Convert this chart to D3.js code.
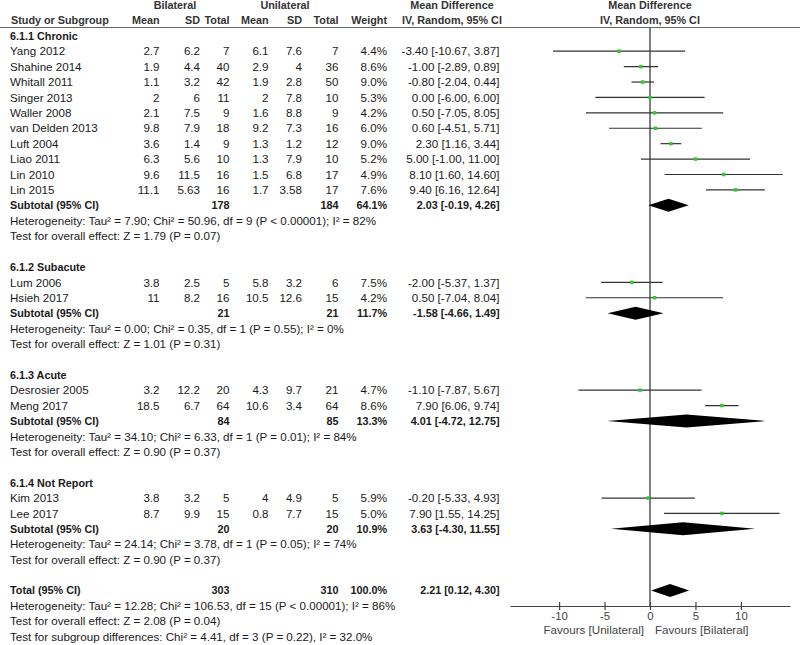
<!DOCTYPE html>
<html><head><meta charset="utf-8">
<script src="https://cdn.jsdelivr.net/npm/d3@7"></script>
<style>body{margin:0;background:#fff}svg{display:block}</style>
</head><body><svg id="c" width="800" height="645"></svg>
<script>
const groupNames = ["6.1.1 Chronic", "6.1.2 Subacute", "6.1.3 Acute", "6.1.4 Not Report"];
const studies = ["Yang 2012","Shahine 2014","Whitall 2011","Singer 2013","Waller 2008","van Delden 2013","Luft 2004","Liao 2011","Lin 2010","Lin 2015",
  "Lum 2006","Hsieh 2017","Desrosier 2005","Meng 2017","Kim 2013","Lee 2017"];
const studyGroup = [0,0,0,0,0,0,0,0,0,0,1,1,2,2,3,3];
const bMean = [2.7,1.9,1.1,2,2.1,9.8,3.6,6.3,9.6,11.1,3.8,11,3.2,18.5,3.8,8.7];
const bSD   = [6.2,4.4,3.2,6,7.5,7.9,1.4,5.6,11.5,5.63,2.5,8.2,12.2,6.7,3.2,9.9];
const bN    = [7,40,42,11,9,18,9,10,16,16,5,16,20,64,5,15];
const uMean = [6.1,2.9,1.9,2,1.6,9.2,1.3,1.3,1.5,1.7,5.8,10.5,4.3,10.6,4,0.8];
const uSD   = [7.6,4,2.8,7.8,8.8,7.3,1.2,7.9,6.8,3.58,3.2,12.6,9.7,3.4,4.9,7.7];
const uN    = [7,36,50,10,9,16,12,10,17,17,6,15,21,64,5,15];
const weight= [4.4,8.6,9.0,5.3,4.2,6.0,9.0,5.2,4.9,7.6,7.5,4.2,4.7,8.6,5.9,5.0];
const md    = [-3.40,-1.00,-0.80,0.00,0.50,0.60,2.30,5.00,8.10,9.40,-2.00,0.50,-1.10,7.90,-0.20,7.90];
const lo    = [-10.67,-2.89,-2.04,-6.00,-7.05,-4.51,1.16,-1.00,1.60,6.16,-5.37,-7.04,-7.87,6.06,-5.33,1.55];
const hi    = [3.87,0.89,0.44,6.00,8.05,5.71,3.44,11.00,14.60,12.64,1.37,8.04,5.67,9.74,4.93,14.25];

const subBN = [178,21,84,20];
const subUN = [184,21,85,20];
const subWeight = [64.1,11.7,13.3,10.9];
const subMD = [2.03,-1.58,4.01,3.63];
const subLo = [-0.19,-4.66,-4.72,-4.30];
const subHi = [4.26,1.49,12.75,11.55];
const subHet = [
 "Heterogeneity: Tau² = 7.90; Chi² = 50.96, df = 9 (P < 0.00001); I² = 82%",
 "Heterogeneity: Tau² = 0.00; Chi² = 0.35, df = 1 (P = 0.55); I² = 0%",
 "Heterogeneity: Tau² = 34.10; Chi² = 6.33, df = 1 (P = 0.01); I² = 84%",
 "Heterogeneity: Tau² = 24.14; Chi² = 3.78, df = 1 (P = 0.05); I² = 74%"];
const subTest = [
 "Test for overall effect: Z = 1.79 (P = 0.07)",
 "Test for overall effect: Z = 1.01 (P = 0.31)",
 "Test for overall effect: Z = 0.90 (P = 0.37)",
 "Test for overall effect: Z = 0.90 (P = 0.37)"];
const totalBN = 303, totalUN = 310, totalWeight = 100.0;
const totalMD = 2.21, totalLo = 0.12, totalHi = 4.30;
const totalTexts = [
 "Heterogeneity: Tau² = 12.28; Chi² = 106.53, df = 15 (P < 0.00001); I² = 86%",
 "Test for overall effect: Z = 2.08 (P = 0.04)",
 "Test for subgroup differences: Chi² = 4.41, df = 3 (P = 0.22), I² = 32.0%"];
const tickVals = [-10,-5,0,5,10];
const favLeft = "Favours [Unilateral]", favRight = "Favours [Bilateral]";

// build row list
const rows = [];
rows.push({type:"h0"}); rows.push({type:"h1"});
groupNames.forEach((g,gi)=>{
  rows.push({type:"group", text:g});
  studies.forEach((s,i)=>{ if(studyGroup[i]===gi) rows.push({type:"study", i}); });
  rows.push({type:"sub", gi});
  rows.push({type:"note", text:subHet[gi]});
  rows.push({type:"note", text:subTest[gi]});
  rows.push({type:"blank"});
});
rows.push({type:"total"});
totalTexts.forEach(t=>rows.push({type:"note", text:t}));

const y = d3.scaleLinear().domain([0, rows.length-1]).range([5, 636.7]);
const x = d3.scaleLinear().domain([-15.4, 15.4]).range([510, 790]);

const svg = d3.select("#c");
const REG = 11.6, BOLD = 10.8;
const font = "'Liberation Sans', Arial, sans-serif";
const txtCol = "#1a1a1a";
const cols = {bMean:159.5, bSD:200, bN:229.5, uMean:268.5, uSD:302, uN:338.5, w:387, ci:499.5};

function T(xp, yp, str, opt={}){
  return svg.append("text").attr("x", xp).attr("y", yp).attr("dy","0.36em")
    .attr("font-family", font).attr("font-size", opt.size || (opt.bold?BOLD:REG))
    .attr("font-weight", opt.bold?"bold":"normal")
    .attr("text-anchor", opt.anchor||"start").attr("fill", opt.fill||txtCol).text(str);
}
const f2 = v => v.toFixed(2);
const ciStr = (m,l,h)=>`${f2(m)} [${f2(l)}, ${f2(h)}]`;

// header
T(175, y(0), "Bilateral", {bold:true, anchor:"middle", fill:"#333"});
T(285, y(0), "Unilateral", {bold:true, anchor:"middle", fill:"#333"});
T(452, y(0), "Mean Difference", {bold:true, anchor:"middle", fill:"#333"});
T(452, y(1), "IV, Random, 95% CI", {bold:true, anchor:"middle", fill:"#333"});
T(x(0), y(0), "Mean Difference", {bold:true, anchor:"middle", fill:"#333"});
T(x(0), y(1), "IV, Random, 95% CI", {bold:true, anchor:"middle", fill:"#333"});
T(11, y(1), "Study or Subgroup", {bold:true, fill:"#333"});
[["Mean",cols.bMean],["SD",cols.bSD],["Total",cols.bN],["Mean",cols.uMean],["SD",cols.uSD],["Total",cols.uN],["Weight",cols.w]]
  .forEach(([s,c])=>T(c, y(1), s, {bold:true, anchor:"end", fill:"#333"}));
svg.append("line").attr("x1",0).attr("x2",800).attr("y1",27.5).attr("y2",27.5).attr("stroke","#666").attr("stroke-width",1);

// zero line
const axisY = 606;
svg.append("line").attr("x1",x(0)).attr("x2",x(0)).attr("y1",28).attr("y2",axisY)
  .attr("stroke","#555").attr("stroke-width",1.5);

const diamond = (m,l,h,yc)=>{
  const hh = 6.5;
  return `M${x(l)},${yc}L${x(m)},${yc-hh}L${x(h)},${yc}L${x(m)},${yc+hh}Z`;
};

rows.forEach((r,ri)=>{
  const yc = y(ri);
  if(r.type==="group"){ T(10, yc, r.text, {bold:true}); }
  else if(r.type==="study"){
    const i=r.i;
    T(10, yc, studies[i]);
    T(cols.bMean, yc, String(bMean[i]), {anchor:"end"});
    T(cols.bSD, yc, String(bSD[i]), {anchor:"end"});
    T(cols.bN, yc, String(bN[i]), {anchor:"end"});
    T(cols.uMean, yc, String(uMean[i]), {anchor:"end"});
    T(cols.uSD, yc, String(uSD[i]), {anchor:"end"});
    T(cols.uN, yc, String(uN[i]), {anchor:"end"});
    T(cols.w, yc, weight[i].toFixed(1)+"%", {anchor:"end"});
    T(cols.ci, yc, ciStr(md[i],lo[i],hi[i]), {anchor:"end"});
    svg.append("line").attr("x1",x(lo[i])).attr("x2",x(hi[i])).attr("y1",yc).attr("y2",yc)
      .attr("stroke","#333").attr("stroke-width",1.2);
    svg.append("rect").attr("x",x(md[i])-1.75).attr("y",yc-1.75).attr("width",3.5).attr("height",3.5).attr("fill","#2fcc2f");
  }
  else if(r.type==="sub"){
    const g=r.gi;
    T(10, yc, "Subtotal (95% CI)", {bold:true});
    T(cols.bN, yc, String(subBN[g]), {bold:true, anchor:"end"});
    T(cols.uN, yc, String(subUN[g]), {bold:true, anchor:"end"});
    T(cols.w, yc, subWeight[g].toFixed(1)+"%", {bold:true, anchor:"end"});
    T(cols.ci, yc, ciStr(subMD[g],subLo[g],subHi[g]), {bold:true, anchor:"end"});
    svg.append("path").attr("d", diamond(subMD[g],subLo[g],subHi[g],yc)).attr("fill","#000");
  }
  else if(r.type==="note"){ T(10, yc, r.text); }
  else if(r.type==="total"){
    T(10, yc, "Total (95% CI)", {bold:true});
    T(cols.bN, yc, String(totalBN), {bold:true, anchor:"end"});
    T(cols.uN, yc, String(totalUN), {bold:true, anchor:"end"});
    T(cols.w, yc, totalWeight.toFixed(1)+"%", {bold:true, anchor:"end"});
    T(cols.ci, yc, ciStr(totalMD,totalLo,totalHi), {bold:true, anchor:"end"});
    svg.append("path").attr("d", diamond(totalMD,totalLo,totalHi,yc)).attr("fill","#000");
  }
});

// axis
const ax = svg.append("g").attr("transform",`translate(0,${axisY})`)
  .call(d3.axisBottom(x).tickValues(tickVals).tickFormat(d=>String(d)).tickSizeOuter(0).tickSizeInner(4));
ax.select(".domain").attr("stroke","#444").attr("stroke-width",1.2);
ax.selectAll(".tick line").attr("y1",-4).attr("y2",4).attr("stroke","#444").attr("stroke-width",1.2);
ax.selectAll(".tick text").attr("font-family",font).attr("font-size",11.4).attr("fill","#444")
  .attr("y",9.6).attr("dy","0.36em");
T(x(0)-6, 630, favLeft, {anchor:"end", fill:"#444", size:11.6});
T(x(0)+5, 630, favRight, {anchor:"start", fill:"#444", size:11.6});
</script></body></html>
